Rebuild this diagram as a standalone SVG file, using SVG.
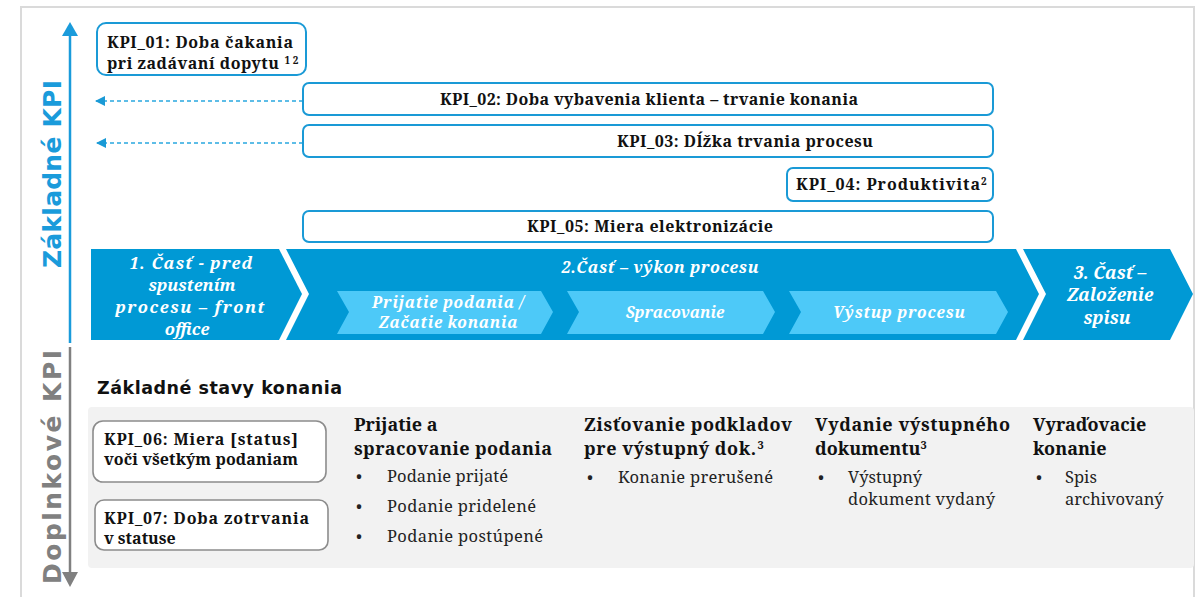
<svg xmlns="http://www.w3.org/2000/svg" width="1199" height="597" viewBox="0 0 1199 597">
<style>
.kpi{fill:#fff;stroke:#1A9AD6;stroke-width:2}
.kpig{fill:#fff;stroke:#8C8C8C;stroke-width:1.6}
.kt{font-family:"Noto Serif","DejaVu Serif",serif;font-weight:bold;font-size:16px;fill:#111}
.band{fill:#0099D5}
.sub{fill:#4DC9F8}
.bt{font-family:"Noto Serif","DejaVu Serif",serif;font-weight:bold;font-style:italic;fill:#fff;text-anchor:middle}
.hd{font-family:"Noto Serif","DejaVu Serif",serif;font-weight:bold;font-size:18px;fill:#111}
.li{font-family:"Noto Serif","DejaVu Serif",serif;font-size:16.5px;fill:#222}
.dash{stroke:#29A8E0;stroke-width:1.3;stroke-dasharray:4 3;fill:none}
.ax{font-family:"DejaVu Sans",sans-serif;font-weight:bold;font-size:25px;text-anchor:middle}
</style>
<defs>
<marker id="ah" markerWidth="10" markerHeight="10" refX="9" refY="5" orient="auto" markerUnits="userSpaceOnUse">
<path d="M0,0 L10,5 L0,10 Z" fill="#1A9AD6"/>
</marker>
</defs>
<rect x="21" y="7" width="1173" height="600" fill="#fff" stroke="#DADADA" stroke-width="2"/>

<g id="axes">
<line x1="70" y1="34" x2="70" y2="343" stroke="#1A9BDB" stroke-width="2.5"/>
<path d="M62,36 L70,22 L78,36 Z" fill="#1A9BDB"/>
<line x1="70" y1="347" x2="70" y2="574" stroke="#808080" stroke-width="2.5"/>
<path d="M62,572 L70,587 L78,572 Z" fill="#808080"/>
<text class="ax" transform="translate(61,174) rotate(-90)" fill="#1A9BDB" textLength="188">Základné KPI</text>
<text class="ax" transform="translate(61,467) rotate(-90)" fill="#808080" textLength="234">Doplnkové KPI</text>
</g>

<g id="connectors">
<line class="dash" x1="303" y1="101" x2="96" y2="101" marker-end="url(#ah)"/>
<line class="dash" x1="303" y1="143" x2="97" y2="143" marker-end="url(#ah)"/>
</g>

<g id="kpi01">
<rect class="kpi" x="97" y="23" width="209" height="52" rx="9"/>
<text class="kt" x="107" y="48" textLength="186">KPI_01: Doba čakania</text>
<text class="kt" x="107" y="69"><tspan textLength="172">pri zadávaní dopytu</tspan><tspan font-size="10" dx="5" dy="-5">1 2</tspan></text>
</g>
<g id="kpi02">
<rect class="kpi" x="303" y="83" width="690" height="32" rx="6"/>
<text class="kt" x="440" y="105" textLength="418">KPI_02: Doba vybavenia klienta – trvanie konania</text>
</g>
<g id="kpi03">
<rect class="kpi" x="303" y="125" width="690" height="32" rx="6"/>
<text class="kt" x="617" y="147" textLength="256">KPI_03: Dĺžka trvania procesu</text>
</g>
<g id="kpi04">
<rect class="kpi" x="787" y="168" width="206" height="33" rx="6"/>
<text class="kt" x="796" y="190"><tspan textLength="184">KPI_04: Produktivita</tspan><tspan font-size="10" dy="-5">2</tspan></text>
</g>
<g id="kpi05">
<rect class="kpi" x="303" y="211" width="690" height="31" rx="6"/>
<text class="kt" x="527" y="232" textLength="246">KPI_05: Miera elektronizácie</text>
</g>

<g id="part1">
<polygon class="band" points="91,249 279,249 302,294 279,340 91,340"/>
<text class="bt" font-size="16.5" x="191" y="269" textLength="123">1. Časť - pred</text>
<text class="bt" font-size="16.5" x="192" y="291">spustením</text>
<text class="bt" font-size="16.5" x="190" y="313" textLength="149">procesu – front</text>
<text class="bt" font-size="16.5" x="187" y="335">office</text>
</g>
<g id="part2">
<polygon class="band" points="286,249 1016,249 1039,294 1016,340 286,340 309,294"/>
<text class="bt" font-size="16" x="660" y="273" textLength="197">2.Časť – výkon procesu</text>
</g>
<g id="sub1">
<polygon class="sub" points="337,291 541,291 553,312 541,334 337,334 349,312"/>
<text class="bt" font-size="15.5" x="448" y="308" textLength="152">Prijatie podania /</text>
<text class="bt" font-size="15.5" x="448" y="328" textLength="139">Začatie konania</text>
</g>
<g id="sub2">
<polygon class="sub" points="567,291 763,291 775,312 763,334 567,334 579,312"/>
<text class="bt" font-size="15.5" x="675" y="318">Spracovanie</text>
</g>
<g id="sub3">
<polygon class="sub" points="789,291 996,291 1008,312 996,334 789,334 801,312"/>
<text class="bt" font-size="15.5" x="899" y="318" textLength="132">Výstup procesu</text>
</g>
<g id="part3">
<polygon class="band" points="1023,249 1170,249 1193,294 1170,340 1023,340 1046,294"/>
<text class="bt" font-size="17.5" x="1110" y="279">3. Časť –</text>
<text class="bt" font-size="17.5" x="1110" y="301">Založenie</text>
<text class="bt" font-size="17.5" x="1107" y="324">spisu</text>
</g>

<g id="states">
<text x="97" y="394" font-family="DejaVu Sans, sans-serif" font-weight="bold" font-size="17.5" fill="#111" textLength="245">Základné stavy konania</text>
<rect x="88" y="407" width="1106" height="161" rx="4" fill="#F2F2F2"/>
</g>
<g id="kpi06">
<rect class="kpig" x="93" y="421" width="233" height="61" rx="10"/>
<text class="kt" x="104" y="445" textLength="194">KPI_06: Miera [status]</text>
<text class="kt" x="104" y="465" textLength="194">voči všetkým podaniam</text>
</g>
<g id="kpi07">
<rect class="kpig" x="95" y="500" width="233" height="50" rx="9"/>
<text class="kt" x="104" y="524" textLength="205">KPI_07: Doba zotrvania</text>
<text class="kt" x="104" y="544">v statuse</text>
</g>
<g id="col1">
<text class="hd" x="354" y="431">Prijatie a</text>
<text class="hd" x="354" y="455" textLength="198">spracovanie podania</text>
<text class="li" x="356" y="482">•</text><text class="li" x="387" y="482" textLength="121">Podanie prijaté</text>
<text class="li" x="356" y="512">•</text><text class="li" x="387" y="512" textLength="149">Podanie pridelené</text>
<text class="li" x="356" y="542">•</text><text class="li" x="387" y="542" textLength="156">Podanie postúpené</text>
</g>
<g id="col2">
<text class="hd" x="584" y="431" textLength="208">Zisťovanie podkladov</text>
<text class="hd" x="584" y="455"><tspan textLength="172">pre výstupný dok.</tspan><tspan font-size="11" dx="1" dy="-6">3</tspan></text>
<text class="li" x="587" y="483">•</text><text class="li" x="618" y="483" textLength="155">Konanie prerušené</text>
</g>
<g id="col3">
<text class="hd" x="815" y="431" textLength="195">Vydanie výstupného</text>
<text class="hd" x="815" y="455">dokumentu<tspan font-size="11" dy="-6">3</tspan></text>
<text class="li" x="818" y="483">•</text><text class="li" x="848" y="483">Výstupný</text>
<text class="li" x="848" y="505" textLength="147">dokument vydaný</text>
</g>
<g id="col4">
<text class="hd" x="1033" y="431">Vyraďovacie</text>
<text class="hd" x="1033" y="455">konanie</text>
<text class="li" x="1036" y="483">•</text><text class="li" x="1065" y="483">Spis</text>
<text class="li" x="1065" y="505">archivovaný</text>
</g>
</svg>
